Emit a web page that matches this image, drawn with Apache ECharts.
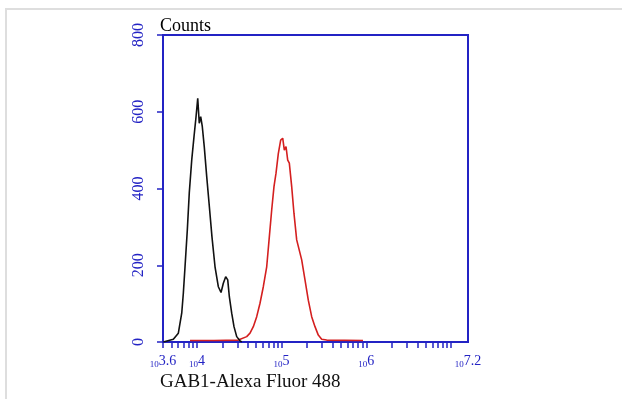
<!DOCTYPE html>
<html>
<head>
<meta charset="utf-8">
<script src="https://cdn.jsdelivr.net/npm/echarts@6/dist/echarts.min.js"></script>
<style>
  html, body { margin: 0; padding: 0; background: #fff; }
  #chart { width: 622px; height: 399px; }
</style>
</head>
<body>
<div id="chart"></div>
<script>
// x values are log10 of fluorescence intensity
const blackLog = [3.604, 3.722, 3.781, 3.821, 3.840, 3.860, 3.887, 3.910, 3.939, 3.966, 3.990, 4.010, 4.028, 4.045, 4.064, 4.087, 4.116, 4.147, 4.178, 4.214, 4.253, 4.285, 4.312, 4.340, 4.364, 4.383, 4.411, 4.438, 4.470, 4.509, 4.530];
const blackCounts = [0, 7, 23, 75, 127, 196, 292, 388, 474, 535, 587, 635, 570, 587, 561, 509, 431, 353, 274, 196, 144, 129, 153, 170, 162, 118, 75, 40, 14, 3, 0];

const redLog = [3.919, 4.200, 4.489, 4.588, 4.627, 4.666, 4.706, 4.745, 4.784, 4.824, 4.855, 4.883, 4.910, 4.934, 4.961, 4.989, 5.013, 5.032, 5.052, 5.072, 5.091, 5.119, 5.146, 5.178, 5.237, 5.276, 5.315, 5.355, 5.394, 5.433, 5.473, 5.532, 5.961];
const redCounts = [4, 4, 5, 14, 23, 40, 66, 101, 144, 196, 274, 344, 405, 440, 491, 526, 531, 500, 509, 474, 466, 405, 335, 266, 214, 162, 109, 66, 40, 18, 7, 5, 4];

const xLabelExps = [3.6, 4, 5, 6, 7.2];
const yTicks = [0, 200, 400, 600, 800];

const blue = '#2323c4';

// decade and minor (2..9) tick positions on the log scale
const xTickExps = [];
for (let d = 3; d <= 7; d++) {
  for (let k = 1; k <= 9; k++) {
    const v = Math.log10(k * Math.pow(10, d));
    if (v >= 3.6 && v <= 7.2) xTickExps.push(+v.toFixed(4));
  }
}

const chart = echarts.init(document.getElementById('chart'));

chart.setOption({
  animation: false,
  backgroundColor: '#fff',
  grid: {
    left: 163, right: 154, top: 35, bottom: 57,
    show: true, borderColor: blue, borderWidth: 2, backgroundColor: 'transparent'
  },
  graphic: [
    { type: 'line', shape: { x1: 5, y1: 9, x2: 622, y2: 9 }, style: { stroke: '#dedede', lineWidth: 2 } },
    { type: 'line', shape: { x1: 6, y1: 9, x2: 6, y2: 399 }, style: { stroke: '#dedede', lineWidth: 2 } },
    { type: 'text', left: 160, top: 17, style: { text: 'Counts', font: '18px "Liberation Serif", serif', fill: '#000' } },
    { type: 'text', left: 160, top: 373, style: { text: 'GAB1-Alexa Fluor 488', font: '19px "Liberation Serif", serif', fill: '#111' } }
  ],
  xAxis: {
    type: 'value',
    min: 3.6, max: 7.2,
    splitLine: { show: false },
    axisLine: { lineStyle: { color: blue, width: 2 } },
    axisTick: { customValues: xTickExps, length: 6, lineStyle: { color: blue, width: 1.5 } },
    axisLabel: {
      customValues: xLabelExps,
      margin: 12,
      formatter: v => '{b|10}{e|' + (+v.toFixed(1)) + '}',
      rich: {
        b: { fontSize: 9, fontFamily: '"Liberation Serif", serif', color: blue, verticalAlign: 'bottom', padding: [6, 0, 0, 0] },
        e: { fontSize: 14, fontFamily: '"Liberation Serif", serif', color: blue, verticalAlign: 'top' }
      }
    }
  },
  yAxis: {
    type: 'value',
    min: 0, max: 800, interval: 200,
    splitLine: { show: false },
    axisLine: { lineStyle: { color: blue, width: 2 } },
    axisTick: { inside: false, length: 6, lineStyle: { color: blue, width: 1.5 } },
    axisLabel: {
      customValues: yTicks,
      rotate: 90,
      margin: 16,
      color: blue,
      fontSize: 16,
      fontFamily: '"Liberation Serif", serif'
    }
  },
  series: [
    {
      type: 'line',
      data: blackLog.map((x, i) => [x, blackCounts[i]]),
      showSymbol: false,
      lineStyle: { color: '#111', width: 1.6 },
      z: 3
    },
    {
      type: 'line',
      data: redLog.map((x, i) => [x, redCounts[i]]),
      showSymbol: false,
      lineStyle: { color: '#d41f1f', width: 1.6 },
      z: 2
    }
  ]
});
</script>
</body>
</html>
